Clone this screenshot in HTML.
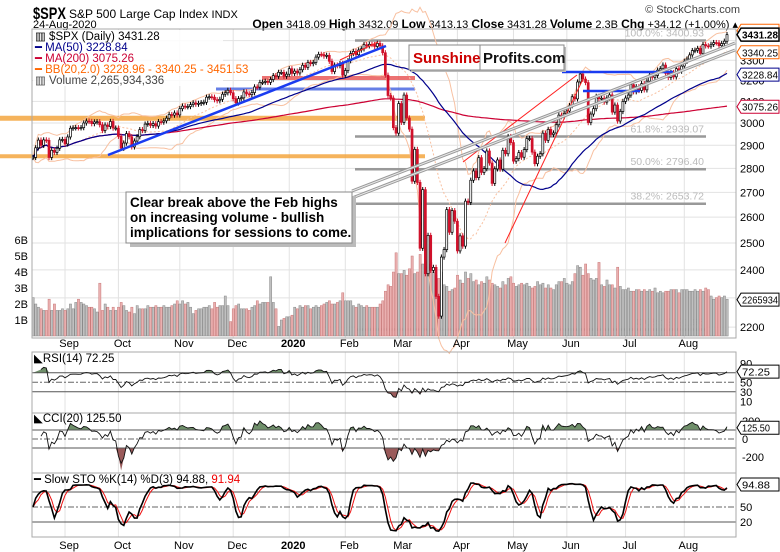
<!DOCTYPE html>
<html><head><meta charset="utf-8"><style>
html,body{margin:0;padding:0;background:#fff;}
svg{display:block;font-family:"Liberation Sans",sans-serif;}
</style></head><body>
<svg id="c" width="780" height="552" viewBox="0 0 780 552" xmlns="http://www.w3.org/2000/svg">
<rect width="780" height="552" fill="#fff"/>
<g>
<text x="33" y="19" font-size="17" font-weight="bold" textLength="33" lengthAdjust="spacingAndGlyphs">$SPX</text>
<text x="69" y="18" font-size="12">S&amp;P 500 Large Cap Index <tspan font-size="11">INDX</tspan></text>
<text x="33" y="28" font-size="11">24-Aug-2020</text>
<text x="738" y="28" font-size="11" text-anchor="end"><tspan font-weight="bold" font-size="12">Open</tspan> 3418.09 <tspan font-weight="bold" font-size="12">High</tspan> 3432.09 <tspan font-weight="bold" font-size="12">Low</tspan> 3413.13 <tspan font-weight="bold" font-size="12">Close</tspan> 3431.28 <tspan font-weight="bold" font-size="12">Volume</tspan> 2.3B <tspan font-weight="bold" font-size="12">Chg</tspan> +34.12 (+1.00%) ▴</text>
<text x="740" y="13" font-size="11" text-anchor="end" fill="#444">© StockCharts.com</text>
</g>
<g id="grid"></g>
<g id="ann1"></g>
<g id="vol"></g>
<g id="ind"></g>
<g id="candles"></g>
<g id="ann2"></g>
<g id="lower"></g>
<g id="axes"></g>
<g font-size="11.5">
<rect x="33" y="30" width="190" height="56" fill="#fff" opacity="0.85"/>
<text x="35" y="40">▥ $SPX (Daily) 3431.28</text>
<text x="35" y="51" fill="#00008b">━ MA(50) 3228.84</text>
<text x="35" y="62" fill="#cc0033">━ MA(200) 3075.26</text>
<text x="35" y="73" fill="#ff6600">━ BB(20,2.0) 3228.96 - 3340.25 - 3451.53</text>
<text x="35" y="84" fill="#444">▥ Volume 2,265,934,336</text>
</g>
<g>
<rect x="411" y="47" width="155" height="25" fill="#bbb"/>
<rect x="409" y="45" width="155" height="25" fill="#fff" stroke="#888"/>
<line x1="480" y1="45" x2="480" y2="70" stroke="#888"/>
<text x="413" y="63" font-size="15" font-weight="bold" fill="#cc0000">Sunshine</text>
<text x="483" y="63" font-size="15" font-weight="bold" fill="#111">Profits.com</text>
</g>
<g>
<rect x="130" y="196" width="226" height="51" fill="#bbb"/>
<rect x="126" y="192" width="226" height="51" fill="#fff" stroke="#888"/>
<text x="130" y="207" font-size="13.5" font-weight="bold">Clear break above the Feb highs</text>
<text x="130" y="222" font-size="13.5" font-weight="bold">on increasing volume - bullish</text>
<text x="130" y="237" font-size="13.5" font-weight="bold">implications for sessions to come.</text>
</g>
</svg>
<script>
const monthNames=["Aug","Sep","Oct","Nov","Dec","2020","Feb","Mar","Apr","May","Jun","Jul","Aug"];
const closesAug19=[2847,2889,2923,2900,2924,2922,2847,2878,2869,2887,2924,2926];
const closesSep19=[2906,2937,2976,2978,2979,2978,2979,3000,3009,3007,2997,3005,3006,2992,2966,2991,2984,3007,2977,2977];
const closesOct19=[2940,2887,2910,2952,2938,2893,2919,2938,2970,2966,2995,2998,2989,2997,2986,3006,3004,3010,3022,3039,3036,3046,3037];
const closesNov19=[3066,3078,3075,3076,3085,3093,3087,3091,3094,3096,3120,3122,3120,3108,3103,3110,3134,3141,3153,3141];
const closesDec19=[3113,3093,3113,3117,3145,3136,3132,3142,3169,3168,3191,3192,3196,3191,3205,3224,3221,3240,3240,3221,3231];
const closesJan20=[3258,3235,3246,3237,3253,3275,3265,3289,3283,3289,3316,3330,3329,3321,3325,3295,3244,3276,3273,3284,3226];
const closesFeb20=[3249,3298,3334,3345,3328,3352,3358,3379,3373,3381,3380,3370,3386,3373,3338,3226,3128,3116,2979,2954];
const closesMar20=[3090,3003,3130,3023,2972,2746,2882,2741,2480,2711,2386,2529,2398,2409,2305,2237,2447,2475,2630,2541,2626,2584];
const closesApr20=[2470,2527,2488,2664,2659,2750,2789,2761,2846,2783,2799,2875,2823,2737,2798,2836,2797,2878,2863,2939,2912];
const closesMay20=[2831,2842,2868,2848,2881,2930,2930,2870,2820,2852,2863,2954,2922,2971,2948,2955,2992,3036,3029,3044];
const closesJun20=[3055,3080,3122,3112,3193,3232,3207,3190,3002,3041,3066,3124,3113,3115,3097,3117,3131,3050,3083,3009,3053,3100];
const closesJul20=[3116,3130,3180,3146,3170,3152,3185,3155,3197,3227,3216,3225,3251,3258,3276,3235,3215,3239,3218,3258,3246,3271];
const closesAug20=[3295,3306,3327,3349,3351,3360,3334,3380,3373,3372,3381,3390,3389,3374,3385,3397,3431];
const volAug19=[2.4,2.0,1.8,1.7,1.6,1.6,2.3,1.6,2.0,1.6,1.6,1.7];
const volSep19=[1.6,1.7,2.0,1.7,2.1,2.3,2.1,2.0,1.9,1.8,1.8,1.7,1.5,3.3,1.6,2.0,1.8,1.6,1.8,1.6];
const volOct19=[1.8,2.1,1.9,1.6,1.5,1.8,1.4,1.9,1.7,1.7,1.7,1.9,1.8,1.8,1.9,1.8,1.8,1.9,1.8,1.8,1.9,2.0,2.2];
const volNov19=[2.0,2.2,2.0,2.1,1.8,1.4,1.6,1.7,1.7,1.8,1.8,1.9,1.7,2.1,1.8,1.9,1.9,2.5,1.9,0.9];
const volDec19=[1.7,1.9,2.0,1.7,1.7,1.7,1.6,1.8,1.9,2.2,2.0,2.1,2.1,2.1,3.7,2.1,1.7,0.6,1.0,1.1,1.2];
const volJan20=[1.2,1.3,1.8,1.7,1.9,1.8,1.9,1.9,1.7,1.8,1.9,1.8,1.9,2.0,2.1,2.2,2.0,2.0,2.1,2.2,2.7];
const volFeb20=[2.2,2.2,2.2,1.9,1.8,2.0,1.9,1.8,1.9,1.8,1.8,1.8,1.8,2.0,2.2,2.8,3.2,3.1,4.0,5.2];
const volMar20=[3.9,3.9,4.1,3.8,4.2,5.0,3.9,4.0,5.1,4.5,4.4,4.5,4.6,4.0,3.8,3.6,4.0,3.2,3.1,2.8,2.9,3.0];
const volApr20=[3.8,3.5,3.3,4.0,3.6,3.9,3.4,3.5,3.2,3.4,3.3,3.7,3.5,3.3,3.2,3.1,3.0,3.4,3.2,3.6,3.7];
const volMay20=[3.3,3.1,3.2,3.3,3.2,3.3,3.1,3.0,3.1,3.4,3.2,3.3,3.0,3.2,3.0,2.9,3.2,3.4,3.4,3.6];
const volJun20=[3.3,3.2,3.4,3.9,4.4,4.3,3.8,4.5,3.9,3.6,3.5,3.6,4.6,3.2,3.1,3.5,3.2,3.2,3.0,4.3,3.1,2.9];
const volJul20=[2.9,3.0,2.8,2.8,2.9,2.9,2.8,2.9,2.8,2.9,2.8,3.0,2.7,2.8,2.7,2.8,2.8,2.9,2.9,2.9,2.7,2.9];
const volAug20=[2.9,2.9,2.8,2.8,2.9,2.8,2.9,2.8,3.0,2.9,2.5,2.3,2.4,2.5,2.4,2.5,2.3];
const priceTicks=[2200,2300,2400,2500,2600,2700,2800,2900,3000,3100,3200,3300,3400];
const volTicks=[1,2,3,4,5,6];
const fibLevels=[3400.93,2939.07,2796.40,2653.72,2191.86];
const fibLabels=["100.0%: 3400.93","61.8%: 2939.07","50.0%: 2796.40","38.2%: 2653.72","0.0%: 2191.86"];

const months=[closesAug19,closesSep19,closesOct19,closesNov19,closesDec19,closesJan20,closesFeb20,closesMar20,closesApr20,closesMay20,closesJun20,closesJul20,closesAug20];
const vmonths=[volAug19,volSep19,volOct19,volNov19,volDec19,volJan20,volFeb20,volMar20,volApr20,volMay20,volJun20,volJul20,volAug20];
const closes=[].concat(...months), vols=[].concat(...vmonths);
const monthStart=[];{let k=0;months.forEach(m=>{monthStart.push(k);k+=m.length;});}
const N=closes.length;
const X0=33,X1=727,L=32,R=736;
const xOf=i=>X0+i*(X1-X0)/(N-1);
const yP=v=>123-658*Math.log(v/3000);
const yV=b=>336-16*b;
const yRSI=v=>406-0.475*v;
const yCCI=v=>439-0.09*v;
const ySTO=v=>532-0.5*v;
const NS="http://www.w3.org/2000/svg";
function mk(parent,tag,attrs){const e=document.createElementNS(NS,tag);for(const k in attrs)e.setAttribute(k,attrs[k]);document.getElementById(parent).appendChild(e);return e;}
function pathOf(arr,yf){let d="";arr.forEach((v,i)=>{if(v==null)return;d+=(d?"L":"M")+xOf(i).toFixed(1)+","+yf(v).toFixed(1);});return d;}

const panels=[[29,338],[352,413],[413,473],[473,537]];
panels.forEach(p=>{monthStart.slice(1).forEach(i=>{const l=mk("grid","line",{x1:xOf(i),x2:xOf(i),y1:p[0],y2:p[1],stroke:"#e2e2e2"});

});});
priceTicks.forEach(t=>{const l=mk("grid","line",{x1:L,x2:R,y1:yP(t),y2:yP(t),stroke:"#e2e2e2"});

});

function sma(a,n){return a.map((v,i)=>{const s=a.slice(Math.max(0,i-n+1),i+1);return s.reduce((x,y)=>x+y,0)/s.length;});}
const ma50=sma(closes,50), ma200=sma(closes,200), ma20=sma(closes,20);
const sd20=closes.map((v,i)=>{const s=closes.slice(Math.max(0,i-19),i+1);const m=ma20[i];return Math.sqrt(s.reduce((x,y)=>x+(y-m)*(y-m),0)/s.length);});
const bbU=ma20.map((m,i)=>m+2*sd20[i]), bbL=ma20.map((m,i)=>m-2*sd20[i]);

[[3022,0,425,"#f4a640",5],[2852,0,425,"#f4a640",4]].forEach(b=>{const l=mk("ann1","line",{x1:b[1],x2:b[2],y1:yP(b[0]),y2:yP(b[0]),stroke:b[3],"stroke-width":b[4],opacity:0.85});

});
{const l=mk("ann1","line",{x1:262,x2:415,y1:78,y2:78,stroke:"#e85050","stroke-width":4,opacity:0.8});

}
{const l=mk("ann1","line",{x1:216,x2:415,y1:89,y2:89,stroke:"#4060e0","stroke-width":3,opacity:0.8});

}
fibLevels.forEach((f,k)=>{const l=mk("ann1","line",{x1:355,x2:706,y1:yP(f),y2:yP(f),stroke:"#999","stroke-width":2.5});


const t=mk("ann1","text",{x:704,y:yP(f)-4,"text-anchor":"end","font-size":"10.5",fill:"#bbb"});t.textContent=fibLabels[k];

});

vols.forEach((b,i)=>{const dn=i>0&&closes[i]<closes[i-1];const r=mk("vol","rect",{x:xOf(i)-1,y:yV(b),width:2.2,height:336-yV(b),fill:dn?"#eab0b0":"#c0c0c0",stroke:dn?"#c87878":"#888","stroke-width":0.5});

});

[[bbU,"#f8c0a0","1",""],[bbL,"#f8c0a0","1",""],[ma20,"#f8c0a0","1","2,2"],[ma200,"#cc0033","1.2",""],[ma50,"#00008b","1.2",""]].forEach(s=>{const p=mk("ind","path",{d:pathOf(s[0],yP),fill:"none",stroke:s[1],"stroke-width":s[2],"stroke-dasharray":s[3]});

});

closes.forEach((c,i)=>{const o=i>0?closes[i-1]:c;const dn=c<o;const hi=Math.max(o,c)*1.004,lo=Math.min(o,c)*0.996;const x=xOf(i);
const w=mk("candles","line",{x1:x,x2:x,y1:yP(hi),y2:yP(lo),stroke:dn?"#d0102a":"#000"});


const top=Math.min(yP(o),yP(c));const h=Math.max(1,Math.abs(yP(o)-yP(c)));
const r=mk("candles","rect",{x:x-1,y:top,width:2,height:h,fill:dn?"#d0102a":"#fff",stroke:dn?"#d0102a":"#000","stroke-width":0.7});

});

[[108,155,386,46,"#1a3cf0",2.5],[562,72,673,72,"#1a3cf0",2.5],[583,91,640,91,"#1a3cf0",2.5],[463,162,577,75,"#ff2020",1],[505,243,583,79,"#ff2020",1],[340,60,378,42,"#ff2020",1]].forEach(a=>{const l=mk("ann2","line",{x1:a[0],y1:a[1],x2:a[2],y2:a[3],stroke:a[4],"stroke-width":a[5]});

});
[[352,191,735,43],[352,198,735,50]].forEach(a=>{const l=mk("ann2","line",{x1:a[0],y1:a[1],x2:a[2],y2:a[3],stroke:"#999","stroke-width":3});


const l2=mk("ann2","line",{x1:a[0],y1:a[1],x2:a[2],y2:a[3],stroke:"#e8e8e8","stroke-width":1});

});

const rsi=[];{let ag=0,al=0;closes.forEach((c,i)=>{if(i===0){rsi.push(null);return;}const d=c-closes[i-1];const g=Math.max(d,0),l=Math.max(-d,0);if(i<=14){ag+=g/14;al+=l/14;}else{ag=(ag*13+g)/14;al=(al*13+l)/14;}rsi.push(i<3?null:100-100/(1+ag/(al||1e-9)));});}
const cci=closes.map((c,i)=>{const s=closes.slice(Math.max(0,i-19),i+1);const m=s.reduce((a,b)=>a+b,0)/s.length;const md=s.reduce((a,b)=>a+Math.abs(b-m),0)/s.length;return i<3?null:(c-m)/(0.015*(md||1));});
const rawK=closes.map((c,i)=>{const s=closes.slice(Math.max(0,i-13),i+1);const h=Math.max(...s)*1.003,l=Math.min(...s)*0.997;return 100*(c-l)/(h-l);});
const kS=sma(rawK,3), dS=sma(kS,3);

function fillBeyond(arr,yf,level,above,color){const ly=yf(level);let d="M"+xOf(0)+","+ly;arr.forEach((v,i)=>{if(v==null)return;let y=yf(v);y=above?Math.min(y,ly):Math.max(y,ly);d+="L"+xOf(i).toFixed(1)+","+y.toFixed(1);});d+="L"+xOf(N-1)+","+ly+"Z";const p=mk("lower","path",{d:d,fill:color});

}
function hline(y,dash){const l=mk("lower","line",{x1:L,x2:R,y1:y,y2:y,stroke:dash?"#666":"#555","stroke-dasharray":dash?"6,2,2,2":"","stroke-width":1});

}
fillBeyond(rsi,yRSI,70,true,"#6f8f6a");fillBeyond(rsi,yRSI,30,false,"#9a5a5a");
hline(yRSI(70));hline(yRSI(30));hline(yRSI(50),1);
{const p=mk("lower","path",{d:pathOf(rsi,yRSI),fill:"none",stroke:"#111","stroke-width":0.9});

}
fillBeyond(cci,yCCI,100,true,"#6f8f6a");fillBeyond(cci,yCCI,-100,false,"#9a5a5a");
hline(yCCI(100));hline(yCCI(-100));hline(yCCI(0),1);
{const p=mk("lower","path",{d:pathOf(cci.map(v=>v==null?null:Math.max(-270,Math.min(230,v))),yCCI),fill:"none",stroke:"#111","stroke-width":0.9});

}
hline(ySTO(80));hline(ySTO(20));hline(ySTO(50),1);
{const p=mk("lower","path",{d:pathOf(dS,ySTO),fill:"none",stroke:"#ee1111","stroke-width":1});

}
{const p=mk("lower","path",{d:pathOf(kS,ySTO),fill:"none",stroke:"#000","stroke-width":1.6});

}

panels.forEach(p=>{const r=mk("axes","rect",{x:L,y:p[0],width:R-L,height:p[1]-p[0],fill:"none",stroke:"#aaa"});

});
function txt(x,y,s,attrs,name){const t=mk("axes","text",Object.assign({x:x,y:y,"font-size":"11"},attrs||{}));t.textContent=s;

return t;}
monthStart.forEach((i,k)=>{if(k===0)return;const b=monthNames[k]==="2020"?{"font-weight":"bold","text-anchor":"middle"}:{"text-anchor":"middle"};txt(xOf(i)+4,347,monthNames[k],b,'month-label-top');txt(xOf(i)+4,549,monthNames[k],b,'month-label-bottom');});
priceTicks.forEach(t=>{if(t===3400)return;txt(740,yP(t)+4,String(t),{},'price-tick');});
volTicks.forEach(t=>txt(28,yV(t)+4,t+"B",{"text-anchor":"end"},'volume-tick'));
[[90,yRSI(90)],[50,yRSI(50)],[30,yRSI(30)],[10,yRSI(10)]].forEach(a=>txt(740,a[1]+4,String(a[0]),{},'rsi-tick'));
[["200",yCCI(200)],["0",yCCI(0)],["-200",yCCI(-200)]].forEach(a=>txt(742,a[1]+4,a[0],{},'cci-tick'));
[[50,ySTO(50)],[20,ySTO(20)]].forEach(a=>txt(740,a[1]+4,String(a[0]),{},'sto-tick'));
function tag(y,s,color,bold,name){const p=mk("axes","path",{d:`M737,${y} l4,-6.5 h38 v13 h-38 z`,fill:"#fff",stroke:color,"stroke-width":bold?1.5:1});


const t=txt(742,y+4,s,{fill:"#000","font-weight":bold?"bold":"normal","font-size":"10.5",textLength:s.length>6?"36":"28",lengthAdjust:"spacingAndGlyphs"},name);}
tag(yP(3451.53),"3451.53","#ff6600",false,'bb-upper-tag');
tag(yP(3340.25),"3340.25","#ff6600",false,'bb-mid-tag');
tag(yP(3228.84),"3228.84","#00008b",false,'ma50-tag');
tag(yP(3075.26),"3075.26","#cc0033",false,'ma200-tag');
tag(yP(3431.28),"3431.28","#000",true,'last-price-tag');
tag(yV(2.27),"2265934","#000",false,'volume-tag');
tag(yRSI(72.25),"72.25","#000",false,'rsi-tag');
tag(yCCI(125.5),"125.50","#000",false,'cci-tag');
tag(ySTO(94.88),"94.88","#000",false,'sto-tag');
txt(34,362,"◣RSI(14) 72.25",{"font-size":"11.5"},'rsi-title');
txt(34,422,"◣CCI(20) 125.50",{"font-size":"11.5"},'cci-title');
{const t=txt(34,483,"━ Slow STO %K(14) %D(3) 94.88, ",{"font-size":"11.5"},'sto-title');const s=document.createElementNS(NS,"tspan");s.setAttribute("fill","#e00");s.textContent="91.94";t.appendChild(s);}
</script>
</body></html>
